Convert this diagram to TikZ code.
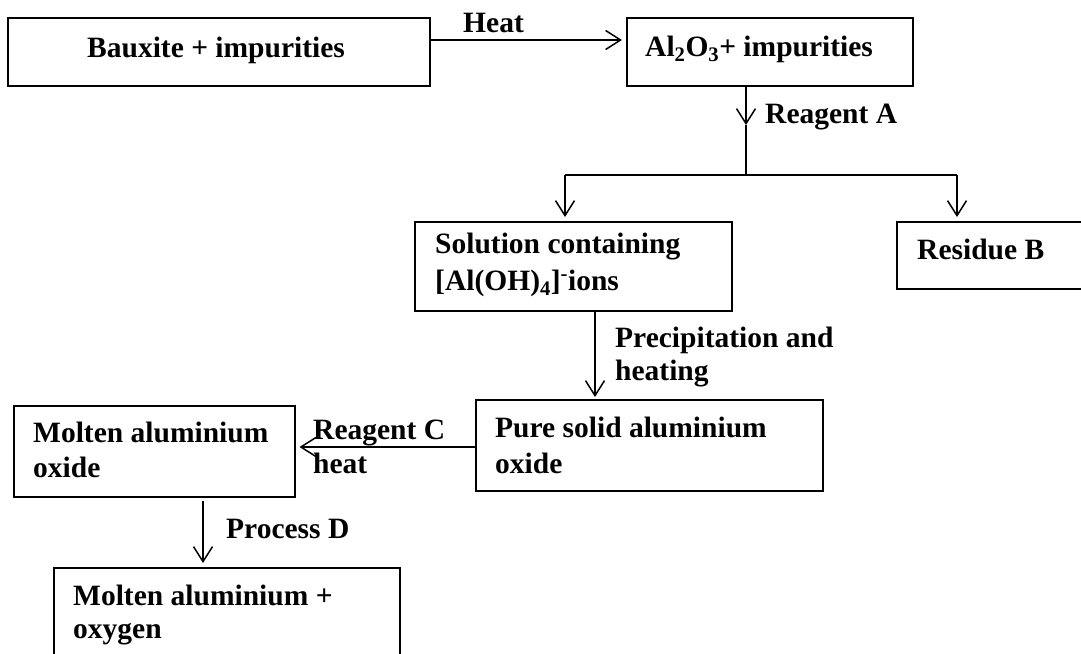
\documentclass[tikz,border=0pt]{standalone}
\usepackage{fontspec}
\setmainfont{Liberation Serif}
\usetikzlibrary{arrows.meta}
\begin{document}
\begin{tikzpicture}[x=1pt,y=-1pt,
  box/.style={draw,line width=1.5pt,rectangle,inner sep=0pt,anchor=north west},
  txt/.style={anchor=base west,inner sep=0pt,font=\fontsize{29.5}{35}\selectfont\bfseries},
  ln/.style={line width=1.5pt},
  arr/.style={line width=1.5pt,-{Straight Barb[length=15pt,width=19pt,line width=1.5pt]}}]
\clip (0,0) rectangle (1081,653);
\fill[white] (0,0) rectangle (1081,653);
% boxes
\node[box,minimum width=422pt,minimum height=68pt] (b1) at (7,17) {};
\node[box,minimum width=286pt,minimum height=68pt] (b2) at (626,17) {};
\node[box,minimum width=317pt,minimum height=89pt] (b3) at (414,221) {};
\node[box,minimum width=200pt,minimum height=67pt] (b4) at (896,221) {};
\node[box,minimum width=347pt,minimum height=91pt] (b5) at (475,399) {};
\node[box,minimum width=281pt,minimum height=91pt] (b6) at (13,405) {};
\node[box,minimum width=346pt,minimum height=110pt] (b7) at (53,567) {};
% texts
\node[txt] (t1) at (87,57) {Bauxite + impurities};
\node[txt] (t2) at (645,56) {Al\textsubscript{2}O\textsubscript{3}+ impurities};
\node[txt] (t3a) at (435,253) {Solution containing};
\node[txt] (t3b) at (435,290) {[Al(OH)\textsubscript{4}]\textsuperscript{-}ions};
\node[txt] (t4) at (917,259) {Residue B};
\node[txt] (t5a) at (495,437) {Pure solid aluminium};
\node[txt] (t5b) at (495,473) {oxide};
\node[txt] (t6a) at (33,442) {Molten aluminium};
\node[txt] (t6b) at (33,477) {oxide};
\node[txt] (t7a) at (73,605) {Molten aluminium +};
\node[txt] (t7b) at (73,638) {oxygen};
% connector labels
\node[txt] (lh) at (463,32) {Heat};
\node[txt] (la) at (765,123) {Reagent A};
\node[txt] (lp1) at (615,347) {Precipitation and};
\node[txt] (lp2) at (615,380) {heating};
\node[txt] (lc1) at (313,439) {Reagent C};
\node[txt] (lc2) at (313,473) {heat};
\node[txt] (ld) at (226,538) {Process D};
% junction coordinates
\coordinate (h) at (0,40);
\coordinate (ma) at (746,125);
\coordinate (j) at (746,175);
\coordinate (jl) at (565,175);
\coordinate (jr) at (957,175);
\coordinate (vp) at (595,0);
\coordinate (hc) at (0,447);
\coordinate (vd) at (203,0);
% connectors
\draw[arr,shorten >=4pt] (b1.east |- h) -- (b2.west |- h);
\draw[arr] (b2.south -| ma) -- (ma);
\draw[ln] (ma) -- (j);
\draw[ln] (jl) -- (jr);
\draw[arr,shorten >=4pt] (jl) -- (b3.north -| jl);
\draw[arr,shorten >=4pt] (jr) -- (b4.north -| jr);
\draw[arr,shorten >=2pt] (b3.south -| vp) -- (b5.north -| vp);
\draw[arr,shorten >=4pt] (b5.west |- hc) -- (b6.east |- hc);
\draw[arr,shorten <=3pt,shorten >=4pt] (b6.south -| vd) -- (b7.north -| vd);
\end{tikzpicture}
\end{document}
